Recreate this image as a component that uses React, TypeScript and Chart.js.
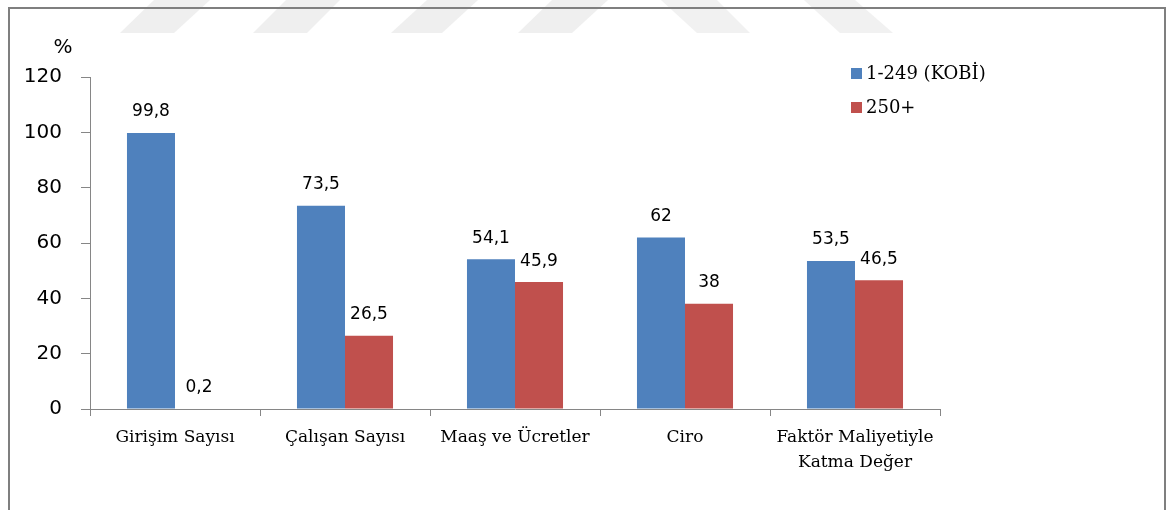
import React, { useEffect, useRef } from "react";
import { Chart, registerables } from "chart.js";

Chart.register(...registerables);

const categories: (string | string[])[] = [
  "Girişim Sayısı",
  "Çalışan Sayısı",
  "Maaş ve Ücretler",
  "Ciro",
  ["Faktör Maliyetiyle", "Katma Değer"],
];
const kobiValues = [99.8, 73.5, 54.1, 62, 53.5];
const largeValues = [0.2, 26.5, 45.9, 38, 46.5];
const seriesNames = ["1-249 (KOBİ)", "250+"];
const seriesColors = ["#4F81BD", "#C0504D"];
const yTicks = { min: 0, max: 120, step: 20 };
const yUnit = "%";

const AXIS = "#868686";

const fmt = (v: number) => String(v).replace(".", ",");

const labelsPlugin = {
  id: "valueLabels",
  afterDatasetsDraw(chart: any) {
    const ctx = chart.ctx;
    ctx.save();
    ctx.font = "17px 'DejaVu Sans'";
    ctx.fillStyle = "#000";
    ctx.textAlign = "center";
    ctx.textBaseline = "alphabetic";
    chart.data.datasets.forEach((ds: any, i: number) => {
      const meta = chart.getDatasetMeta(i);
      meta.data.forEach((el: any, j: number) => {
        ctx.fillText(fmt(ds.data[j]), el.x, el.y - 16.5);
      });
    });
    ctx.restore();
  },
};

const extrasPlugin = {
  id: "extras",
  afterDraw(chart: any) {
    const ctx = chart.ctx;
    ctx.save();
    // unit label
    ctx.font = "20px 'DejaVu Sans'";
    ctx.fillStyle = "#000";
    ctx.textAlign = "center";
    ctx.textBaseline = "alphabetic";
    ctx.fillText(yUnit, 63, 53);
    // legend
    ctx.font = "18px 'DejaVu Serif'";
    ctx.textAlign = "left";
    ctx.textBaseline = "middle";
    chart.data.datasets.forEach((ds: any, i: number) => {
      const y = 68 + i * 34;
      ctx.fillStyle = ds.backgroundColor;
      ctx.fillRect(851, y, 11, 11);
      ctx.fillStyle = "#000";
      ctx.fillText(ds.label, 866, y + 6);
    });
    ctx.restore();
  },
};

function Watermark() {
  const right = [
    [120, 174, 154, 210],
    [253, 307, 286, 340],
    [391, 442, 427, 478],
    [518, 572, 552, 608],
  ];
  const left = [
    [661, 717, 697, 750],
    [804, 855, 840, 893],
  ];
  const H = 33;
  return (
    <svg
      width={1167}
      height={40}
      style={{ position: "absolute", left: 0, top: 0 }}
    >
      {right.map((r, i) => (
        <polygon
          key={"r" + i}
          points={`${r[0]},${H} ${r[1]},${H} ${r[3]},0 ${r[2]},0`}
          fill="#efefef"
        />
      ))}
      {left.map((r, i) => (
        <polygon
          key={"l" + i}
          points={`${r[0]},0 ${r[1]},0 ${r[3]},${H} ${r[2]},${H}`}
          fill="#f1f1f1"
        />
      ))}
    </svg>
  );
}

export default function App() {
  const ref = useRef<HTMLCanvasElement | null>(null);

  useEffect(() => {
    if (!ref.current) return;
    const chart = new Chart(ref.current, {
      type: "bar",
      data: {
        labels: categories as any,
        datasets: [
          {
            label: seriesNames[0],
            data: kobiValues,
            backgroundColor: seriesColors[0],
            categoryPercentage: 0.565,
            barPercentage: 1,
          },
          {
            label: seriesNames[1],
            data: largeValues,
            backgroundColor: seriesColors[1],
            categoryPercentage: 0.565,
            barPercentage: 1,
          },
        ],
      },
      options: {
        responsive: false,
        animation: false,
        devicePixelRatio: 1,
        layout: { padding: { left: 0, top: 77, right: 227, bottom: 0 } },
        plugins: {
          legend: { display: false },
          tooltip: { enabled: false },
        },
        scales: {
          x: {
            offset: true,
            grid: {
              offset: true,
              drawOnChartArea: false,
              drawTicks: true,
              tickLength: 7,
              color: AXIS,
            },
            border: { color: AXIS, width: 1 },
            ticks: {
              color: "#000",
              font: { family: "'DejaVu Serif'", size: 17, lineHeight: 1.47 },
              padding: 9,
              maxRotation: 0,
              autoSkip: false,
            },
            afterFit: (s: any) => {
              s.height = 101;
            },
          },
          y: {
            min: yTicks.min,
            max: yTicks.max,
            grid: {
              drawOnChartArea: false,
              drawTicks: true,
              tickLength: 9,
              color: AXIS,
            },
            border: { color: AXIS, width: 1 },
            ticks: {
              stepSize: yTicks.step,
              color: "#000",
              font: { family: "'DejaVu Sans'", size: 20 },
              padding: 19,
            },
            afterFit: (s: any) => {
              s.width = 90;
            },
          },
        },
      },
      plugins: [labelsPlugin, extrasPlugin],
    });
    return () => chart.destroy();
  }, []);

  return (
    <div
      style={{
        position: "fixed",
        left: 0,
        top: 0,
        width: 1167,
        height: 510,
        background: "#fff",
        overflow: "hidden",
      }}
    >
      <Watermark />
      <div
        style={{
          position: "absolute",
          left: 8,
          top: 7,
          width: 1154,
          height: 520,
          borderTop: "2px solid #7f7f7f",
          borderLeft: "2px solid #7f7f7f",
          borderRight: "2px solid #7f7f7f",
        }}
      />
      <canvas
        ref={ref}
        width={1167}
        height={510}
        style={{ position: "absolute", left: 0, top: 0 }}
      />
    </div>
  );
}
